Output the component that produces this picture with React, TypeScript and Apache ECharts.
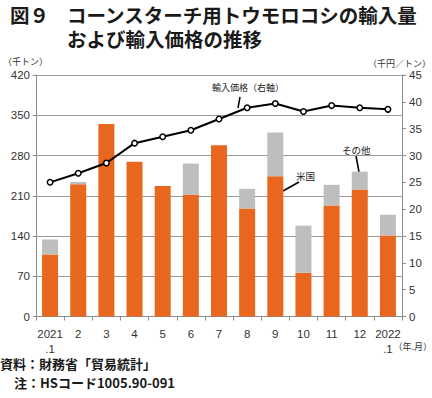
import React, { useEffect, useRef } from "react";
import * as echarts from "echarts";

const categories = ["2021\n.1", "2", "3", "4", "5", "6", "7", "8", "9", "10", "11", "12", "2022\n.1"];
const usValues = [108, 230, 335, 269, 227, 212, 298, 188, 244, 76, 193, 221, 141];
const otherValues = [26, 4, 0, 0, 0, 54, 0, 34, 76, 82, 36, 31, 36];
const priceValues = [25.0, 26.7, 28.6, 32.3, 33.5, 34.7, 36.8, 38.9, 39.7, 38.2, 39.3, 38.9, 38.6];
const leftTicks = { min: 0, max: 420, interval: 70 };
const rightTicks = { min: 0, max: 45, interval: 5 };

const JP = "'Noto Sans CJK JP', 'Noto Sans', sans-serif";
const NUM = "'Liberation Sans', 'Noto Sans', sans-serif";

export default function App() {
  const ref = useRef<HTMLDivElement>(null);
  useEffect(() => {
    const chart = echarts.init(ref.current!, null, { renderer: "svg" });
    const axisGray = "#8c8c8c";
    chart.setOption({
      animation: false,
      backgroundColor: "#ffffff",
      grid: { left: 36, right: 30, top: 75, bottom: 81.5, containLabel: false },
      xAxis: {
        type: "category",
        data: categories,
        axisLine: { lineStyle: { color: axisGray } },
        axisTick: { show: true, alignWithLabel: false, lineStyle: { color: axisGray }, length: 4 },
        axisLabel: { color: "#333", fontSize: 11.5, fontFamily: NUM, lineHeight: 15, margin: 10, interval: 0 },
      },
      yAxis: [
        {
          type: "value",
          ...leftTicks,
          axisLine: { show: true, lineStyle: { color: axisGray } },
          axisTick: { show: true, length: 3, lineStyle: { color: axisGray } },
          splitLine: { show: true, lineStyle: { color: "#9a9a9a", width: 1 } },
          axisLabel: { color: "#333", fontSize: 11.5, fontFamily: NUM, margin: 6 },
        },
        {
          type: "value",
          ...rightTicks,
          position: "right",
          axisLine: { show: true, lineStyle: { color: axisGray } },
          axisTick: { show: true, length: 4, lineStyle: { color: axisGray } },
          splitLine: { show: false },
          axisLabel: { color: "#333", fontSize: 11.5, fontFamily: NUM, margin: 7 },
        },
      ],
      series: [
        {
          name: "米国",
          type: "bar",
          stack: "vol",
          data: usValues,
          barWidth: 16,
          itemStyle: { color: "#E8661E" },
        },
        {
          name: "その他",
          type: "bar",
          stack: "vol",
          data: otherValues,
          barWidth: 16,
          itemStyle: { color: "#BEBEBE" },
        },
        {
          name: "輸入価格",
          type: "line",
          yAxisIndex: 1,
          data: priceValues,
          symbol: "circle",
          symbolSize: 5.5,
          lineStyle: { color: "#000", width: 2 },
          itemStyle: { color: "#fff", borderColor: "#000", borderWidth: 1.5 },
          z: 5,
        },
      ],
      graphic: [
        { type: "text", left: 10, top: 2, style: { text: "図９", font: `bold 19.5px ${JP}`, fill: "#1a1a1a", lineHeight: 24 } },
        {
          type: "text",
          left: 67,
          top: 2,
          style: {
            text: "コーンスターチ用トウモロコシの輸入量\nおよび輸入価格の推移",
            font: `bold 19.5px ${JP}`,
            lineHeight: 24,
            fill: "#1a1a1a",
          },
        },
        { type: "text", left: 3, top: 57, style: { text: "（千トン）", font: `9px ${JP}`, fill: "#333" } },
        { type: "text", right: 1, top: 59, style: { text: "（千円／トン）", font: `9px ${JP}`, fill: "#333" } },
        { type: "text", right: 0, top: 342, style: { text: "（年.月）", font: `9px ${JP}`, fill: "#333" } },
        { type: "text", left: 212, top: 83, style: { text: "輸入価格（右軸）", font: `9px ${JP}`, fill: "#222" } },
        { type: "line", shape: { x1: 240, y1: 97, x2: 238, y2: 108 }, style: { stroke: "#000", lineWidth: 1.5 } },
        { type: "text", left: 342, top: 145, style: { text: "その他", font: `9.5px ${JP}`, fill: "#222" } },
        { type: "line", shape: { x1: 356, y1: 156, x2: 359, y2: 172 }, style: { stroke: "#000", lineWidth: 1.5 } },
        { type: "text", left: 296, top: 171, style: { text: "米国", font: `9.5px ${JP}`, fill: "#222" } },
        { type: "line", shape: { x1: 299, y1: 182, x2: 283, y2: 191 }, style: { stroke: "#000", lineWidth: 1.5 } },
        { type: "text", left: 0, top: 357, style: { text: "資料：財務省「貿易統計」", font: `bold 13px ${JP}`, fill: "#1a1a1a" } },
        { type: "text", left: 14, top: 376, style: { text: "注：HSコード1005.90-091", font: `bold 13px ${JP}`, fill: "#1a1a1a" } },
      ],
    });
    return () => chart.dispose();
  }, []);
  return <div ref={ref} style={{ width: 432, height: 398, position: "absolute", left: 0, top: 0 }} />;
}
